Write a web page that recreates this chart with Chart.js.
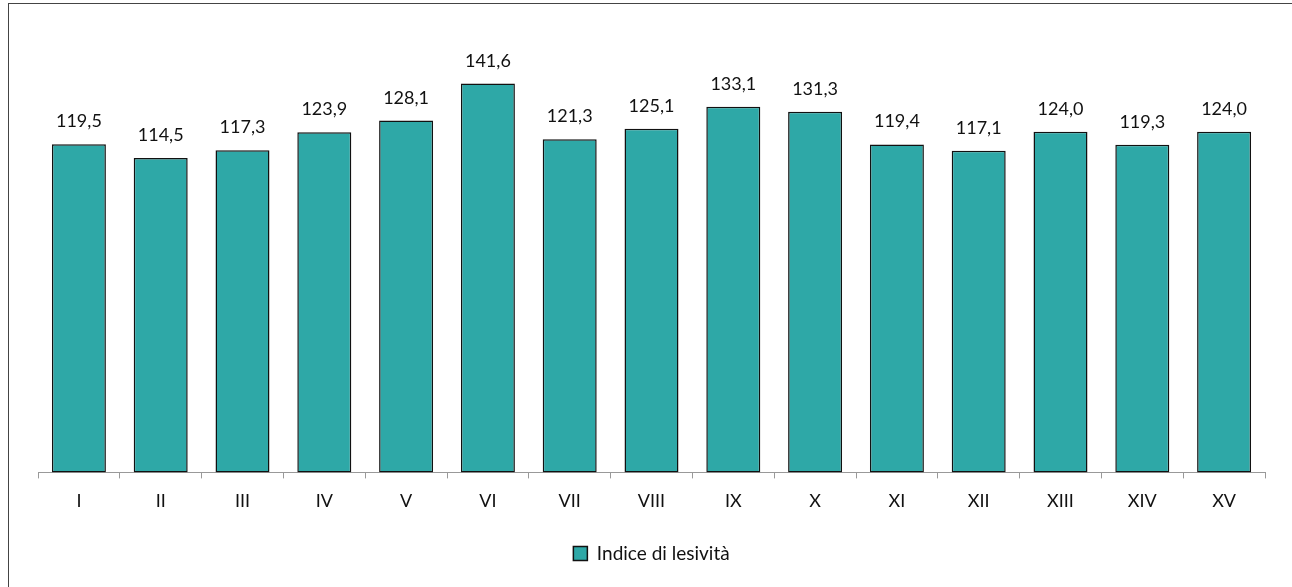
<!DOCTYPE html>
<html>
<head>
<meta charset="utf-8">
<script src="https://cdn.jsdelivr.net/npm/chart.js@4"></script>
<style>
  html, body { margin: 0; padding: 0; overflow: hidden; background: #fff; }
  .frame {
    position: absolute; left: 8px; top: 3px;
    width: 1300px; height: 600px;
    border: 1px solid #444;
  }
  canvas { display: block; }
</style>
</head>
<body>
<div class="frame">
  <canvas id="lesChart" width="1283" height="583"></canvas>
</div>
<script>
// Regioni / categorie e valori
const categories = ['I', 'II', 'III', 'IV', 'V', 'VI', 'VII', 'VIII', 'IX', 'X', 'XI', 'XII', 'XIII', 'XIV', 'XV'];
const indiceValues = [119.5, 114.5, 117.3, 123.9, 128.1, 141.6, 121.3, 125.1, 133.1, 131.3, 119.4, 117.1, 124.0, 119.3, 124.0];
const seriesName = 'Indice di lesività';

const FONT = 'Lato, "Open Sans", sans-serif';

// Etichette numeriche sopra le barre (virgola decimale)
const valueLabels = {
    id: 'valueLabels',
    afterDatasetsDraw(chart) {
        const ctx = chart.ctx;
        const meta = chart.getDatasetMeta(0);
        ctx.save();
        ctx.font = '18px ' + FONT;
        ctx.fillStyle = '#111';
        ctx.textAlign = 'center';
        ctx.textBaseline = 'alphabetic';
        meta.data.forEach((bar, i) => {
            const txt = indiceValues[i].toFixed(1).replace('.', ',');
            ctx.fillText(txt, bar.x, bar.y - 17);
        });
        ctx.restore();
    }
};

const ctx = document.getElementById('lesChart').getContext('2d');
new Chart(ctx, {
    type: 'bar',
    data: {
        labels: categories,
        datasets: [{
            label: seriesName,
            data: indiceValues,
            backgroundColor: '#2ea8a7',
            borderColor: '#111',
            borderWidth: 1.5,
            borderSkipped: false,
            categoryPercentage: 1,
            barPercentage: 0.66
        }]
    },
    options: {
        responsive: false,
        animation: false,
        layout: { padding: { left: 29, right: 27, top: 29, bottom: 14 } },
        scales: {
            y: {
                display: false,
                min: 0,
                max: 160
            },
            x: {
                offset: true,
                grid: {
                    display: true,
                    offset: true,
                    drawOnChartArea: false,
                    tickLength: 6,
                    color: '#999'
                },
                border: { color: '#999', width: 1 },
                ticks: {
                    color: '#111',
                    padding: 12,
                    font: { family: FONT, size: 18 }
                }
            }
        },
        plugins: {
            legend: {
                position: 'bottom',
                labels: {
                    boxWidth: 14,
                    boxHeight: 14,
                    padding: 20,
                    color: '#111',
                    font: { family: FONT, size: 19 }
                }
            },
            tooltip: { enabled: false }
        }
    },
    plugins: [valueLabels]
});
</script>
</body>
</html>
